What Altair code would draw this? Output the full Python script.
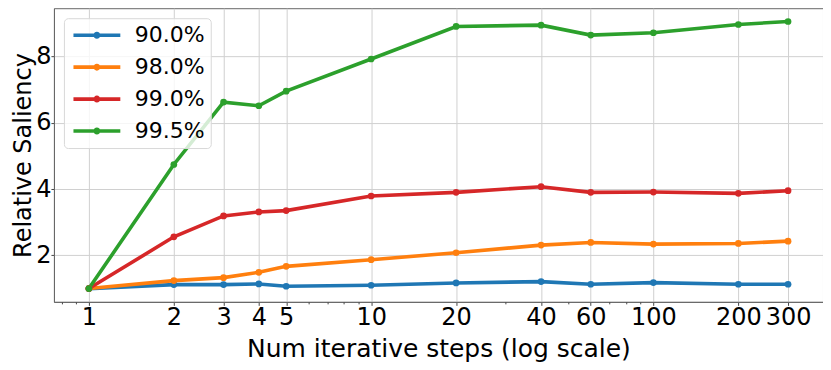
import altair as alt
import pandas as pd

steps = [1, 2, 3, 4, 5, 10, 20, 40, 60, 100, 200, 300]
series_names = ["90.0%", "98.0%", "99.0%", "99.5%"]
s90 = [1.0, 1.12, 1.12, 1.14, 1.07, 1.10, 1.17, 1.21, 1.13, 1.18, 1.13, 1.13]
s98 = [1.0, 1.24, 1.33, 1.49, 1.67, 1.87, 2.08, 2.31, 2.39, 2.34, 2.36, 2.43]
s99 = [1.0, 2.56, 3.19, 3.31, 3.35, 3.79, 3.90, 4.07, 3.90, 3.91, 3.87, 3.95]
s995 = [1.0, 4.74, 6.62, 6.51, 6.95, 7.92, 8.90, 8.94, 8.64, 8.71, 8.96, 9.05]
colors = ["#1f77b4", "#ff7f0e", "#d62728", "#2ca02c"]
major_ticks = [1, 2, 3, 4, 5, 10, 20, 40, 60, 100, 200, 300]
minor_ticks = [0.8, 0.9, 6, 7, 8, 9, 30, 50, 70, 80, 90, 400]
y_ticks = [2, 4, 6, 8]

rows = []
for name, vals in zip(series_names, [s90, s98, s99, s995]):
    for s, v in zip(steps, vals):
        rows.append({"steps": s, "saliency": v, "series": name})
df = pd.DataFrame(rows)

FONT = "DejaVu Sans"
xscale = alt.Scale(type="log", domain=[0.752, 399], nice=False)
yscale = alt.Scale(domain=[0.6, 9.45], nice=False, zero=False)

legend_symbol = "M-2.76,0H2.76M-0.2,0A0.2,0.2,0,1,1,0.2,0A0.2,0.2,0,1,1,-0.2,0Z"

lines = alt.Chart(df).mark_line(
    point=alt.OverlayMarkDef(filled=True, size=45), strokeWidth=3.6
).encode(
    x=alt.X("steps:Q", scale=xscale,
            axis=alt.Axis(values=major_ticks, title="Num iterative steps (log scale)",
                          labelExpr="datum.value", grid=True, tickSize=3.5,
                          labelPadding=0.5, orient="bottom", labelFontSize=24,
                          titleFontSize=25,
                          titleBaseline="alphabetic", titleY=54.5,
                          labelOverlap=False, labelFlush=False)),
    y=alt.Y("saliency:Q", scale=yscale,
            axis=alt.Axis(values=y_ticks, title="Relative Saliency", grid=True,
                          tickSize=3, labelPadding=0, labelFontSize=24,
                          titleFontSize=24,
                          titleBaseline="alphabetic", titleX=-23, titleY=147)),
    color=alt.Color("series:N", scale=alt.Scale(domain=series_names, range=colors),
                    legend=alt.Legend(title=None, orient="top-left", offset=10,
                                      symbolType=legend_symbol, symbolSize=289,
                                      symbolOffset=16,
                                      symbolStrokeWidth=3.6, labelFontSize=22,
                                      labelFont=FONT, labelColor="black",
                                      rowPadding=10, labelOffset=27,
                                      fillColor="rgba(255,255,255,0.8)",
                                      strokeColor="#d8d8d8", cornerRadius=4,
                                      padding=6)),
)

minor = alt.Chart(pd.DataFrame({"m": minor_ticks})).mark_tick(opacity=0).encode(
    x=alt.X("m:Q", scale=xscale,
            axis=alt.Axis(values=minor_ticks, labels=False, title=None, grid=False,
                          tickSize=2, domain=False, orient="bottom")),
)

chart = alt.layer(lines, minor).resolve_axis(x="independent").properties(
    width=770, height=294,
    autosize=alt.AutoSizeParams(type="none"),
    padding={"left": 46, "top": 0, "right": 0, "bottom": 60},
).configure_axis(
    labelFont=FONT, titleFont=FONT,
    labelColor="black", titleColor="black", titleFontWeight="normal",
    gridColor="#d0d0d0", gridWidth=1, tickColor="#444", domainColor="#666",
    domainWidth=1, tickWidth=1,
).configure_view(stroke="#666", strokeWidth=1)

chart.save("out.html", embed_options={"renderer": "svg", "actions": False})
